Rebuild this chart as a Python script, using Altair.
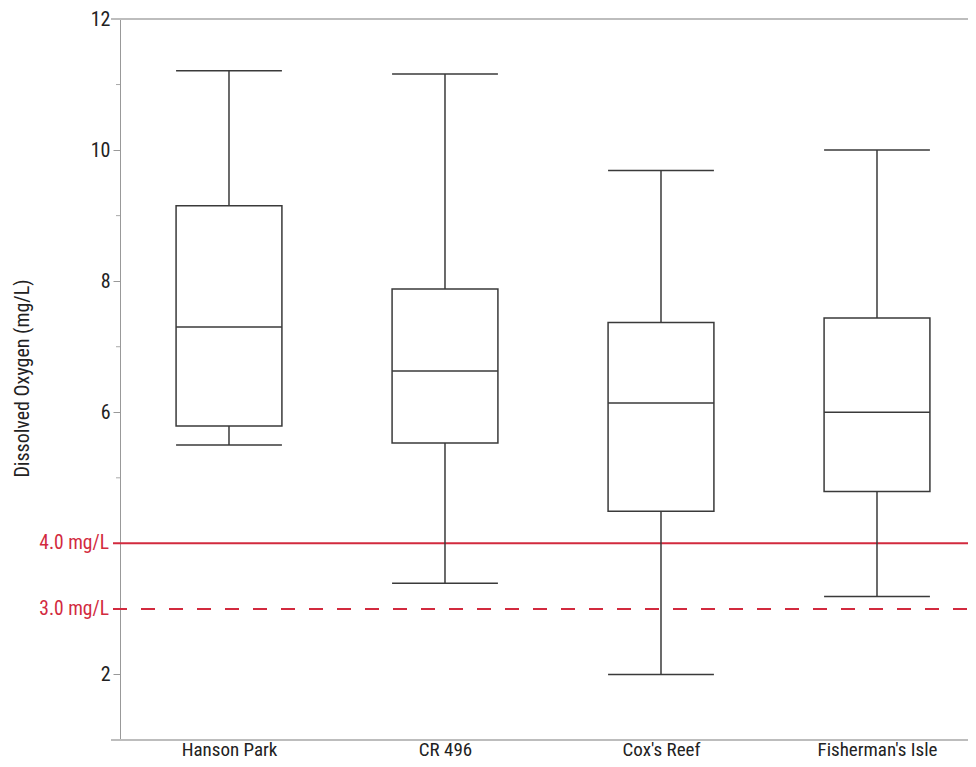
import altair as alt
import pandas as pd

sites = ["Hanson Park", "CR 496", "Cox's Reef", "Fisherman's Isle"]
whisker_low = [5.50, 3.39, 2.00, 3.19]
q1 = [5.79, 5.53, 4.49, 4.79]
median = [7.30, 6.63, 6.14, 6.00]
q3 = [9.15, 7.88, 7.37, 7.44]
whisker_high = [11.21, 11.16, 9.69, 10.00]

major_ticks = [2, 6, 8, 10, 12]
minor_ticks = [5, 7, 9, 11]
limit_values = [4.0, 3.0]
limit_labels = ["4.0 mg/L", "3.0 mg/L"]
limit_dash = ["solid", "dashed"]

FONT = "Liberation Sans Narrow, Arial Narrow, Roboto Condensed, sans-serif"
W, H = 848, 721
HALF = 0.245
RED = "#d22a3e"
BOXC = "#3a3a3a"

df = pd.DataFrame({
    "idx": list(range(len(sites))),
    "site": sites,
    "lo": whisker_low,
    "q1": q1,
    "med": median,
    "q3": q3,
    "hi": whisker_high,
})

xscale = alt.Scale(domain=[-0.5046, 3.4213], nice=False, zero=False)
yscale = alt.Scale(domain=[1, 12], nice=False, zero=False)

labels_expr = "[" + ",".join("'" + s.replace("'", "\\'") + "'" for s in sites) + "][datum.value]"

base = alt.Chart(df).transform_calculate(
    xl=f"datum.idx - {HALF}", xr=f"datum.idx + {HALF}"
)

x_axis = alt.Axis(values=list(range(len(sites))), labelExpr=labels_expr, domain=False,
                  ticks=False, grid=False, labelFontSize=19, labelFont=FONT,
                  labelColor="#222222", labelPadding=0, title=None)
y_axis = alt.Axis(values=major_ticks, format="d", tickSize=7, tickColor="#999999",
                  domainColor="#999999",
                  grid=False, labelFontSize=20, labelFont=FONT, labelColor="#222222",
                  labelPadding=3, title="Dissolved Oxygen (mg/L)", titleFont=FONT,
                  titleFontSize=20, titleFontWeight="normal", titleColor="#222222",
                  titleAngle=-90, titleX=-98, titleY=359, titleAlign="center",
                  titleBaseline="middle")

frame_df = pd.DataFrame({"y": [12, 1]})
frame = alt.Chart(frame_df).mark_rule(color="#bdbdbd", strokeWidth=2).encode(
    y=alt.Y("y:Q", scale=yscale, axis=y_axis),
    x=alt.value(-9), x2=alt.value(W)
)

minor = alt.Chart(pd.DataFrame({"y": minor_ticks})).mark_rule(color="#aaaaaa", strokeWidth=1).encode(
    y=alt.Y("y:Q", scale=yscale), x=alt.value(-4), x2=alt.value(0)
)

lim_df = pd.DataFrame({"y": limit_values, "label": limit_labels, "dash": limit_dash})
lim_solid = alt.Chart(lim_df).transform_filter("datum.dash == 'solid'").mark_rule(
    color=RED, strokeWidth=2).encode(y=alt.Y("y:Q", scale=yscale), x=alt.value(-7), x2=alt.value(W))
lim_dash = alt.Chart(lim_df).transform_filter("datum.dash == 'dashed'").mark_rule(
    color=RED, strokeWidth=2, strokeDash=[14, 14]).encode(y=alt.Y("y:Q", scale=yscale), x=alt.value(-7), x2=alt.value(W))
lim_text = alt.Chart(lim_df).mark_text(color=RED, font=FONT, fontSize=19.5, align="right",
                                         baseline="middle").encode(
    y=alt.Y("y:Q", scale=yscale), x=alt.value(-11), text="label:N")

wlow = base.mark_rule(color=BOXC, strokeWidth=1.5).encode(
    x=alt.X("idx:Q", scale=xscale, axis=x_axis), y=alt.Y("lo:Q", scale=yscale), y2="q1:Q")
whigh = base.mark_rule(color=BOXC, strokeWidth=1.5).encode(
    x=alt.X("idx:Q", scale=xscale), y=alt.Y("q3:Q", scale=yscale), y2="hi:Q")
box = base.mark_rect(fill="white", stroke=BOXC, strokeWidth=1.5).encode(
    x=alt.X("xl:Q", scale=xscale), x2="xr:Q", y=alt.Y("q1:Q", scale=yscale), y2="q3:Q")
med = base.mark_rule(color=BOXC, strokeWidth=1.5).encode(
    x=alt.X("xl:Q", scale=xscale), x2="xr:Q", y=alt.Y("med:Q", scale=yscale))
caplo = base.mark_rule(color=BOXC, strokeWidth=1.5).encode(
    x=alt.X("xl:Q", scale=xscale), x2="xr:Q", y=alt.Y("lo:Q", scale=yscale))
caphi = base.mark_rule(color=BOXC, strokeWidth=1.5).encode(
    x=alt.X("xl:Q", scale=xscale), x2="xr:Q", y=alt.Y("hi:Q", scale=yscale))

chart = alt.layer(
    frame, minor, lim_solid, lim_dash, lim_text, wlow, whigh, box, med, caplo, caphi
).properties(
    width=W, height=H,
    autosize=alt.AutoSizeParams(type="none"),
    padding={"left": 112, "top": 11, "right": 0, "bottom": 19},
).configure_view(stroke=None).configure(background="white")

chart.save("out.html", embed_options={"renderer": "svg", "actions": False})
